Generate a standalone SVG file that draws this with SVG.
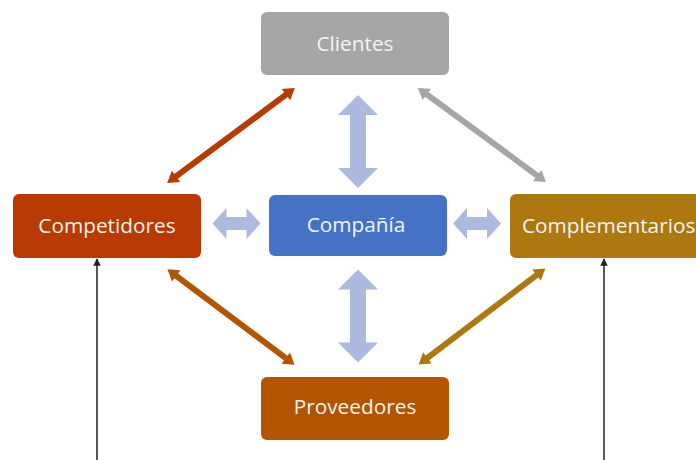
<svg xmlns="http://www.w3.org/2000/svg" width="696" height="460" viewBox="0 0 696 460">
<style>
.lbl{font-family:"Open Sans","Noto Sans",sans-serif;font-size:20.8px;fill:#f4f4f4;text-anchor:middle}
.thin{stroke:#222;stroke-width:1.5;fill:none}
</style>
<defs>
<path id="diag" d="M-79.5,0 L-68.5,-7 L-68.5,-3 L68.5,-3 L68.5,-7 L79.5,0 L68.5,7 L68.5,3 L-68.5,3 L-68.5,7 Z"/>
<path id="vert" d="M0,-46.5 L20,-26.5 L8,-26.5 L8,26.5 L20,26.5 L0,46.5 L-20,26.5 L-8,26.5 L-8,-26.5 L-20,-26.5 Z"/>
<path id="horz" d="M-24,0 L-10,-15.5 L-10,-6.5 L10,-6.5 L10,-15.5 L24,0 L10,15.5 L10,6.5 L-10,6.5 L-10,15.5 Z"/>
<marker id="ah" viewBox="0 0 10 10" refX="9" refY="5" markerWidth="5" markerHeight="5" orient="auto"><path d="M0,0 L10,5 L0,10 Z" fill="#222"/></marker>
</defs>
<g id="connectors">
<use href="#diag" transform="translate(231,135.5) rotate(-36.6)" fill="#b73a00"/>
<use href="#diag" transform="translate(482,135) rotate(36.3)" fill="#a6a6a6"/>
<use href="#diag" transform="translate(231,317) rotate(36.9)" fill="#b35500"/>
<use href="#diag" transform="translate(482,316.5) rotate(-37.2)" fill="#ad780f"/>
<use href="#vert" transform="translate(358,141.5)" fill="#adbadf"/>
<use href="#vert" transform="translate(358,316)" fill="#adbadf"/>
<use href="#horz" transform="translate(236.5,223.5)" fill="#adbadf"/>
<use href="#horz" transform="translate(477,223.5)" fill="#adbadf"/>
<line class="thin" x1="97" y1="460" x2="97" y2="259" marker-end="url(#ah)"/>
<line class="thin" x1="604" y1="460" x2="604" y2="259" marker-end="url(#ah)"/>
</g>
<g id="clientes"><rect x="261" y="12" width="188" height="63" rx="6" fill="#a6a6a6"/><text class="lbl" x="355" y="51">Clientes</text></g>
<g id="competidores"><rect x="13" y="194" width="188" height="64" rx="6" fill="#b73a00"/><text class="lbl" x="107" y="233">Competidores</text></g>
<g id="compania"><rect x="269" y="195" width="178" height="61" rx="6" fill="#4472c4"/><text class="lbl" x="356" y="232">Compañía</text></g>
<g id="complementarios"><rect x="510" y="194" width="196" height="64" rx="6" fill="#ad780f"/><text class="lbl" x="522" y="233" style="text-anchor:start">Complementarios</text></g>
<g id="proveedores"><rect x="261" y="377" width="188" height="63" rx="6" fill="#b35500"/><text class="lbl" x="355" y="414">Proveedores</text></g>
</svg>
